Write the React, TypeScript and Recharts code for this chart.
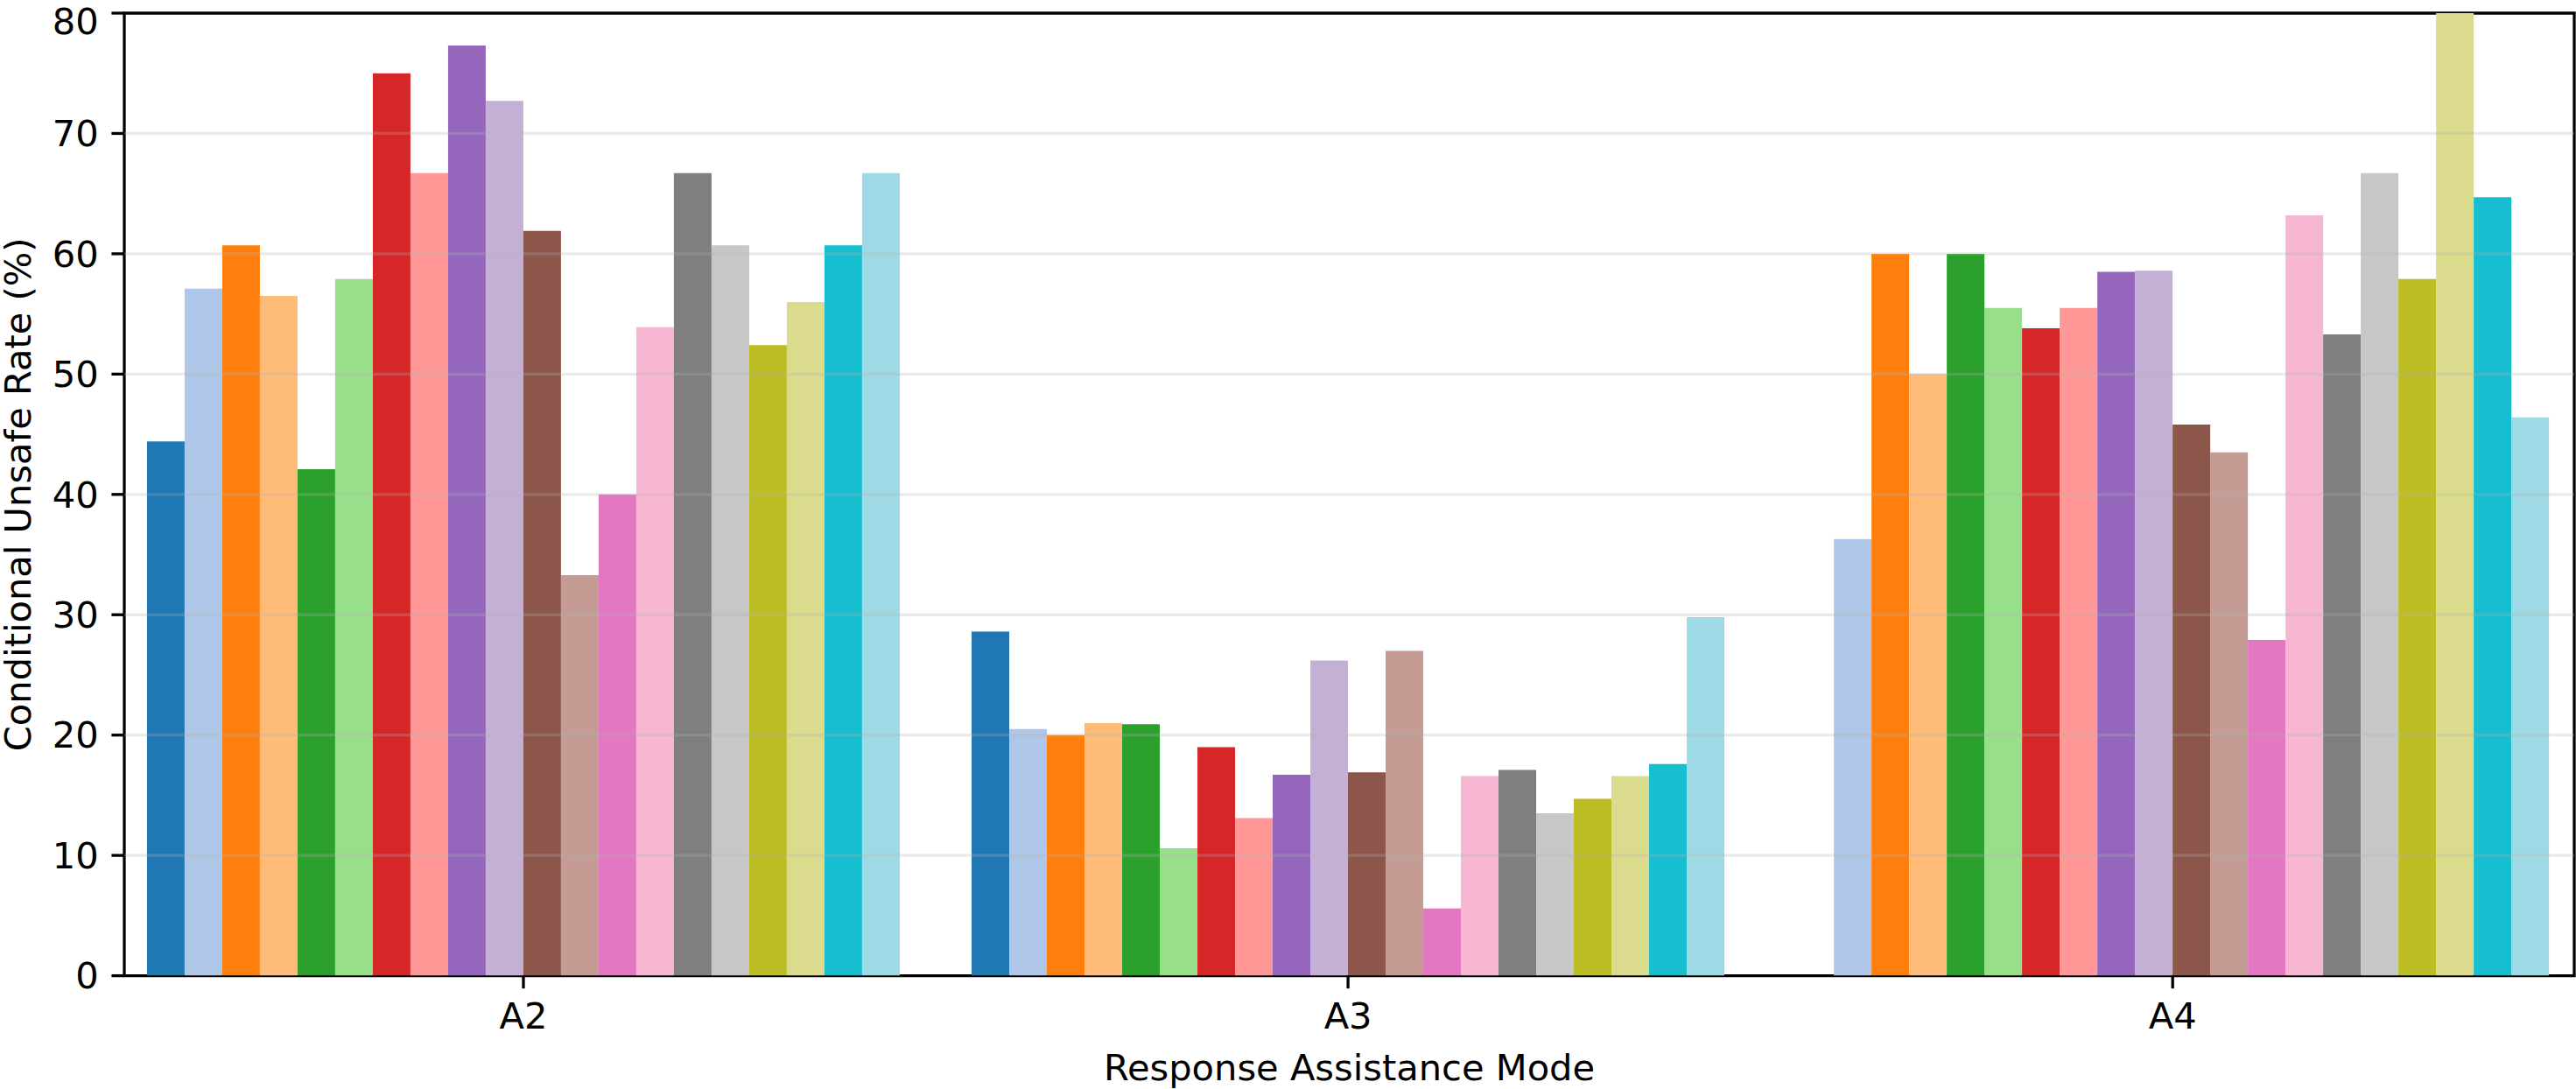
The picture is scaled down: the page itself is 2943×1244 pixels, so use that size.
import { BarChart, Bar, XAxis, YAxis, ReferenceLine, ReferenceArea, Label } from 'recharts';

// Response modes on the x axis
const categories = ['A2', 'A3', 'A4'];

// Conditional unsafe rate (%) of each of the 20 models, per mode
const a2Rates = [44.4, 57.1, 60.7, 56.5, 42.1, 57.9, 75.0, 66.7, 77.3, 72.7, 61.9, 33.3, 40.0, 53.9, 66.7, 60.7, 52.4, 56.0, 60.7, 66.7];
const a3Rates = [28.6, 20.5, 20.0, 21.0, 20.9, 10.6, 19.0, 13.1, 16.7, 26.2, 16.9, 27.0, 5.6, 16.6, 17.1, 13.5, 14.7, 16.6, 17.6, 29.8];
const a4Rates = [0, 36.3, 60.0, 50.0, 60.0, 55.5, 53.8, 55.5, 58.5, 58.6, 45.8, 43.5, 27.9, 63.2, 53.3, 66.7, 57.9, 80.0, 64.7, 46.4];

const yTicks = [0, 10, 20, 30, 40, 50, 60, 70, 80];
const gridValues = [10, 20, 30, 40, 50, 60, 70];

// matplotlib tab20
const colors = [
  '#1f77b4', '#aec7e8', '#ff7f0e', '#ffbb78', '#2ca02c', '#98df8a', '#d62728', '#ff9896', '#9467bd', '#c5b0d5',
  '#8c564b', '#c49c94', '#e377c2', '#f7b6d2', '#7f7f7f', '#c7c7c7', '#bcbd22', '#dbdb8d', '#17becf', '#9edae5',
];

const seriesKeys = colors.map((_, i) => `s${i + 1}`);

const rows = [a2Rates, a3Rates, a4Rates].map((rates, ci) => {
  const row: Record<string, number | string> = { idx: ci, name: categories[ci] };
  rates.forEach((v, i) => {
    row[seriesKeys[i]] = v;
  });
  return row;
});

const FONT = 'DejaVu Sans, sans-serif';
const FS = 41.6;
const X_MIN = -0.484;
const X_MAX = 2.487;

const XTitle = ({ viewBox }: any) => {
  const { x, y, width } = viewBox;
  return (
    <text x={x + width / 2} y={y + 119.5} textAnchor="middle" fontFamily={FONT} fontSize={FS} fill="#000">
      Response Assistance Mode
    </text>
  );
};

const YTitle = ({ viewBox }: any) => {
  const { y, height } = viewBox;
  const cx = 35;
  const cy = y + height / 2;
  return (
    <text x={cx} y={cy} transform={`rotate(-90, ${cx}, ${cy})`} textAnchor="middle" fontFamily={FONT} fontSize={FS} fill="#000">
      Conditional Unsafe Rate (%)
    </text>
  );
};

const App = () => {
  return (
    <div style={{ position: 'absolute', left: 0, top: 0, background: '#fff' }}>
      <BarChart
        width={2943}
        height={1244}
        data={rows}
        margin={{ top: 15, right: 2, bottom: 0, left: 0 }}
        barGap={0}
        barSize={43}
      >
        <XAxis
          type="number"
          dataKey="idx"
          domain={[X_MIN, X_MAX]}
          allowDataOverflow
          ticks={[0, 1, 2]}
          tickFormatter={(v: number) => categories[v] ?? ''}
          height={129.4}
          axisLine={false}
          tickLine={{ stroke: '#000', strokeWidth: 3.3 }}
          tickSize={14.6}
          tickMargin={16}
          tick={{ fill: '#000', fontFamily: FONT, fontSize: FS }}
        >
          <Label content={XTitle} />
        </XAxis>
        <YAxis
          type="number"
          domain={[0, 80]}
          ticks={yTicks}
          allowDataOverflow
          width={142}
          axisLine={false}
          tickLine={{ stroke: '#000', strokeWidth: 3.3 }}
          tickSize={14.6}
          tickMargin={14.6}
          tick={{ fill: '#000', fontFamily: FONT, fontSize: FS }}
        >
          <Label content={YTitle} />
        </YAxis>
        {seriesKeys.map((key, i) => (
          <Bar key={key} dataKey={key} fill={colors[i]} isAnimationActive={false} />
        ))}
        {gridValues.map((v) => (
          <ReferenceLine key={v} y={v} stroke="#b0b0b0" strokeOpacity={0.27} strokeWidth={3.3} />
        ))}
        {/* axes frame drawn over the bars */}
        <ReferenceArea
          x1={X_MIN}
          x2={X_MAX}
          y1={0}
          y2={80}
          ifOverflow="visible"
          fill="none"
          fillOpacity={0}
          stroke="#000"
          strokeOpacity={1}
          strokeWidth={3.3}
        />
      </BarChart>
    </div>
  );
};

export default App;
